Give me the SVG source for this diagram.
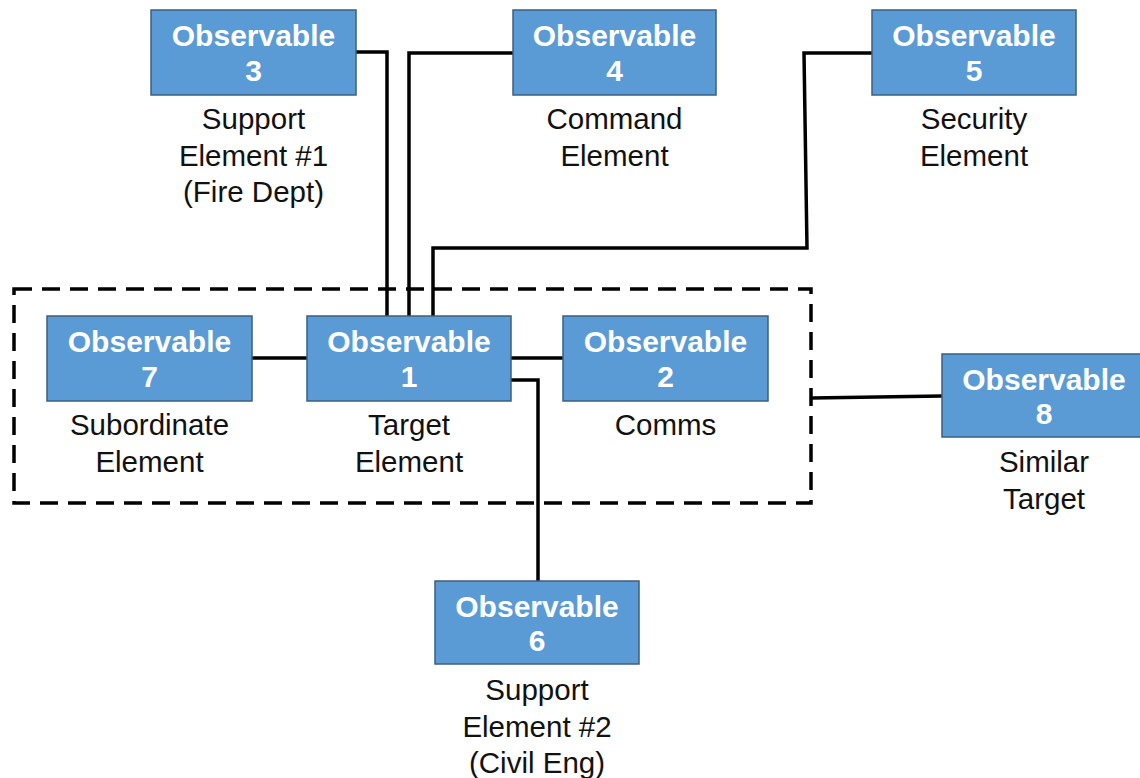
<svg xmlns="http://www.w3.org/2000/svg" width="1140" height="778" viewBox="0 0 1140 778">
<style>
.box{fill:#5b9bd5;stroke:#3d5f80;stroke-width:1.5}
.t{font-family:"Liberation Sans",Arial,sans-serif;font-weight:bold;font-size:30px;fill:#fff;text-anchor:middle}
.l{font-family:"Liberation Sans",Arial,sans-serif;font-size:29.5px;fill:#111;text-anchor:middle}
.c{fill:none;stroke:#000;stroke-width:3.5;stroke-linejoin:miter}
.d{fill:none;stroke:#000;stroke-width:3.5;stroke-dasharray:18 10}
</style>
<rect width="1140" height="778" fill="#fff"/>
<g id="connectors">
<rect class="d" x="14" y="289" width="797" height="214"/>
<polyline class="c" points="356,52 387,52 387,316"/>
<polyline class="c" points="513,53 409,53 409,316"/>
<polyline class="c" points="872,53 804,53 807,248 433,248 433,316"/>
<line class="c" x1="252" y1="358" x2="307" y2="358"/>
<line class="c" x1="511" y1="358" x2="563" y2="358"/>
<polyline class="c" points="511,380 538,380 538,581"/>
<line class="c" x1="812" y1="398" x2="942" y2="396"/>
</g>
<g id="obs3">
<rect class="box" x="151" y="10" width="205" height="85"/>
<text class="t" x="253.5" y="46">Observable</text>
<text class="t" x="253.5" y="81">3</text>
<text class="l" x="253.5" y="129">Support</text>
<text class="l" x="253.5" y="166">Element #1</text>
<text class="l" x="253.5" y="202">(Fire Dept)</text>
</g>
<g id="obs4">
<rect class="box" x="513" y="10" width="203" height="85"/>
<text class="t" x="614.5" y="46">Observable</text>
<text class="t" x="614.5" y="81">4</text>
<text class="l" x="614.5" y="129">Command</text>
<text class="l" x="614.5" y="166">Element</text>
</g>
<g id="obs5">
<rect class="box" x="872" y="10" width="204" height="85"/>
<text class="t" x="974" y="46">Observable</text>
<text class="t" x="974" y="81">5</text>
<text class="l" x="974" y="129">Security</text>
<text class="l" x="974" y="166">Element</text>
</g>
<g id="obs7">
<rect class="box" x="47" y="316" width="205" height="85"/>
<text class="t" x="149.5" y="352">Observable</text>
<text class="t" x="149.5" y="387">7</text>
<text class="l" x="149.5" y="435">Subordinate</text>
<text class="l" x="149.5" y="472">Element</text>
</g>
<g id="obs1">
<rect class="box" x="307" y="316" width="204" height="85"/>
<text class="t" x="409" y="352">Observable</text>
<text class="t" x="409" y="387">1</text>
<text class="l" x="409" y="435">Target</text>
<text class="l" x="409" y="472">Element</text>
</g>
<g id="obs2">
<rect class="box" x="563" y="316" width="205" height="85"/>
<text class="t" x="665.5" y="352">Observable</text>
<text class="t" x="665.5" y="387">2</text>
<text class="l" x="665.5" y="435">Comms</text>
</g>
<g id="obs8">
<rect class="box" x="942" y="354" width="205" height="83"/>
<text class="t" x="1044" y="390">Observable</text>
<text class="t" x="1044" y="424">8</text>
<text class="l" x="1044" y="472">Similar</text>
<text class="l" x="1044" y="509">Target</text>
</g>
<g id="obs6">
<rect class="box" x="435" y="581" width="204" height="83"/>
<text class="t" x="537" y="617">Observable</text>
<text class="t" x="537" y="651">6</text>
<text class="l" x="537" y="700">Support</text>
<text class="l" x="537" y="737">Element #2</text>
<text class="l" x="537" y="773">(Civil Eng)</text>
</g>
</svg>
